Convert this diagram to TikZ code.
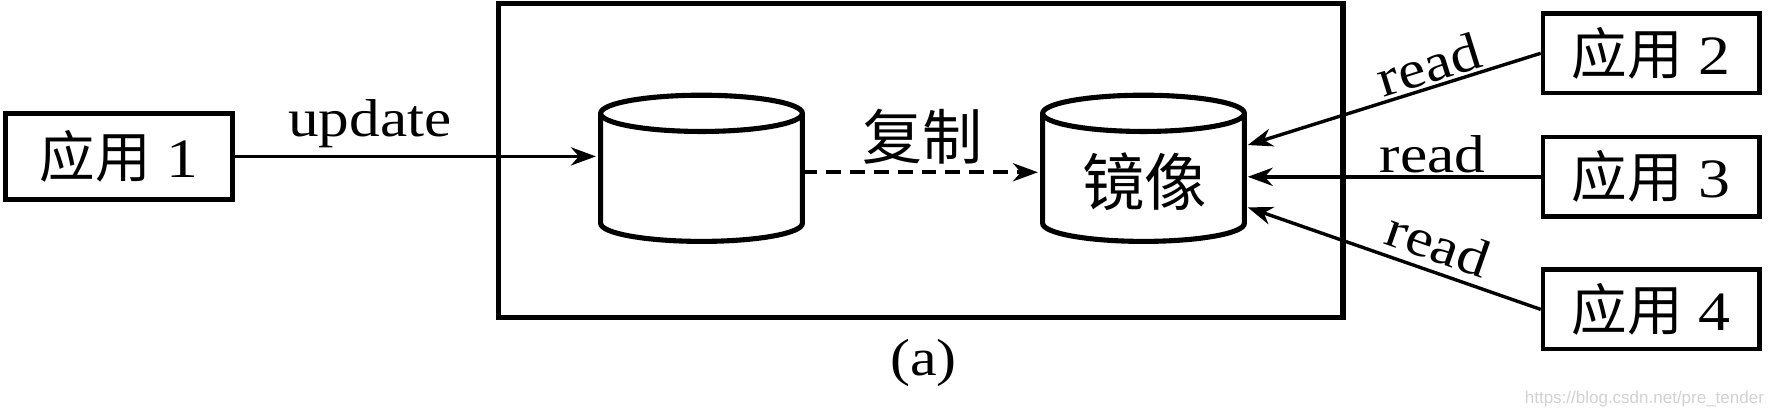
\documentclass[tikz,border=0pt]{standalone}
\usepackage{fontspec}
\setmainfont{Liberation Serif}
\newfontfamily\cjk{Noto Sans CJK SC}
\newfontfamily\lat[FakeStretch=1.15]{Liberation Serif}
\newfontfamily\wm{Liberation Sans}
\usetikzlibrary{arrows.meta}
\tikzset{
  app/.style={draw, line width=4pt, minimum width=191pt, minimum height=70pt, inner sep=0pt, font=\fontsize{49}{52}\selectfont},
  conn/.style={line width=3pt, -{Stealth[length=22pt,width=16pt,inset=7pt]}},
  lbl/.style={font=\lat\fontsize{47}{50}\selectfont, inner sep=2pt},
  cyl/.style={line width=4.5pt},
}
\begin{document}
\begin{tikzpicture}[x=1pt,y=1pt]
\useasboundingbox (0,0) rectangle (1568,-368);
% outer box
\draw[line width=4.5pt] (440,-3) rectangle (1185,-280);
% apps
\node[app, minimum width=200pt, minimum height=76pt] (a1) at (105,-138) {\cjk 应用\lat~1};
\node[app] (a2) at (1457,-47) {\cjk 应用\lat~2};
\node[app] (a3) at (1457,-156) {\cjk 应用\lat~3};
\node[app] (a4) at (1457,-273) {\cjk 应用\lat~4};
% cylinders
\foreach \cx/\nm in {619/db1, 1009/db2}{
  \draw[cyl] (\cx,-100) ellipse [x radius=89, y radius=16];
  \draw[cyl] (\cx-89,-100) -- (\cx-89,-197) arc[start angle=180, end angle=360, x radius=89, y radius=16] -- (\cx+89,-100);
  \node[inner sep=0pt, minimum width=178pt, minimum height=97pt] (\nm) at (\cx,-148.5) {};
}
\node[font=\cjk\fontsize{55}{58}\selectfont] (mir) at (1010,-160) {镜像};
% connectors
\coordinate (yd) at (0,-152);
\coordinate (t2) at (1101,-128);
\coordinate (t3) at (1101,-156);
\coordinate (t4) at (1101,-183);
\draw[conn, shorten >=4pt] (a1.east) -- node[lbl, above, pos=0.37, inner sep=6pt] {update} (db1.west |- a1.east);
\draw[conn, line width=3.5pt, dashed, dash pattern=on 13pt off 8pt, shorten >=4pt] (db1.east |- yd) -- node[above, font=\cjk\fontsize{53}{56}\selectfont, inner sep=5pt] {复制} (db2.west |- yd);
\draw[conn] (a2.west) -- node[lbl, above, sloped, pos=0.36] {read} (t2);
\draw[conn] (a3.west) -- node[lbl, above, pos=0.37] {read} (t3);
\draw[conn] (a4.west) -- node[lbl, above, sloped, pos=0.38, inner sep=7pt] {read} (t4);
% caption
\node[font=\lat\fontsize{46}{50}\selectfont] (cap) at (815,-320) {(a)};
\node[font=\wm\fontsize{15}{17}\selectfont, text=black!18, anchor=east] (wmk) at (1560,-352) {https://blog.csdn.net/pre\_tender};
\end{tikzpicture}
\end{document}
